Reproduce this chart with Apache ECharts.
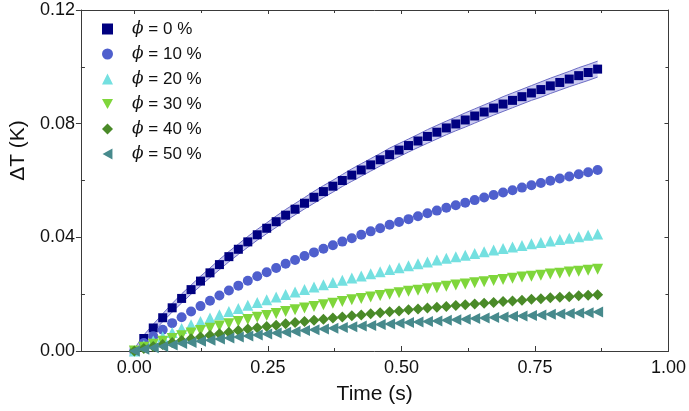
<!DOCTYPE html>
<html>
<head>
<meta charset="utf-8">
<script src="https://cdn.jsdelivr.net/npm/echarts@6/dist/echarts.min.js"></script>
<style>
html,body{margin:0;padding:0;background:#fff;}
#chart{width:689px;height:411px;}
</style>
</head>
<body>
<div id="chart"></div>
<script>
const times = [0,0.0177,0.0354,0.0531,0.0708,0.0885,0.1062,0.1239,0.1416,0.1593,0.1770,0.1947,0.2124,0.2301,0.2478,0.2655,0.2832,0.3009,0.3186,0.3363,0.3540,0.3717,0.3894,0.4071,0.4248,0.4425,0.4602,0.4779,0.4956,0.5133,0.5310,0.5487,0.5664,0.5841,0.6018,0.6195,0.6372,0.6549,0.6726,0.6903,0.7080,0.7257,0.7434,0.7611,0.7788,0.7965,0.8142,0.8319,0.8496,0.8673];

const phi0 = [0.0000,0.0044,0.0081,0.0117,0.0152,0.0185,0.0216,0.0246,0.0275,0.0304,0.0332,0.0358,0.0384,0.0409,0.0432,0.0455,0.0478,0.0499,0.0520,0.0541,0.0561,0.0580,0.0600,0.0619,0.0637,0.0655,0.0673,0.0691,0.0707,0.0723,0.0739,0.0755,0.0770,0.0785,0.0799,0.0813,0.0827,0.0841,0.0855,0.0869,0.0882,0.0895,0.0908,0.0920,0.0933,0.0945,0.0957,0.0969,0.0980,0.0992];
const phi10 = [0.0000,0.0028,0.0052,0.0075,0.0098,0.0119,0.0139,0.0158,0.0177,0.0195,0.0213,0.0230,0.0247,0.0263,0.0277,0.0292,0.0307,0.0320,0.0334,0.0347,0.0360,0.0372,0.0385,0.0397,0.0409,0.0421,0.0432,0.0444,0.0454,0.0464,0.0474,0.0485,0.0494,0.0504,0.0513,0.0522,0.0531,0.0540,0.0549,0.0558,0.0566,0.0575,0.0583,0.0591,0.0599,0.0607,0.0614,0.0622,0.0629,0.0637];
const phi20 = [0.0000,0.0019,0.0035,0.0050,0.0065,0.0079,0.0092,0.0104,0.0116,0.0128,0.0139,0.0150,0.0161,0.0171,0.0180,0.0190,0.0199,0.0208,0.0216,0.0225,0.0233,0.0241,0.0249,0.0257,0.0264,0.0272,0.0279,0.0287,0.0293,0.0300,0.0307,0.0313,0.0320,0.0326,0.0332,0.0337,0.0343,0.0349,0.0355,0.0361,0.0366,0.0371,0.0377,0.0382,0.0387,0.0392,0.0397,0.0402,0.0407,0.0412];
const phi30 = [0.0000,0.0013,0.0024,0.0034,0.0044,0.0054,0.0063,0.0072,0.0080,0.0088,0.0096,0.0104,0.0111,0.0119,0.0125,0.0132,0.0139,0.0145,0.0151,0.0157,0.0163,0.0168,0.0174,0.0180,0.0185,0.0190,0.0195,0.0200,0.0205,0.0210,0.0214,0.0219,0.0223,0.0228,0.0232,0.0236,0.0240,0.0244,0.0248,0.0252,0.0256,0.0260,0.0263,0.0267,0.0271,0.0274,0.0278,0.0281,0.0284,0.0288];
const phi40 = [0.0000,0.0009,0.0016,0.0023,0.0030,0.0037,0.0043,0.0049,0.0055,0.0061,0.0066,0.0072,0.0077,0.0082,0.0086,0.0091,0.0096,0.0100,0.0104,0.0108,0.0112,0.0116,0.0120,0.0124,0.0127,0.0131,0.0135,0.0138,0.0141,0.0145,0.0148,0.0151,0.0154,0.0157,0.0160,0.0163,0.0165,0.0168,0.0171,0.0174,0.0176,0.0179,0.0182,0.0184,0.0187,0.0189,0.0191,0.0194,0.0196,0.0198];
const phi50 = [0.0000,0.0006,0.0011,0.0016,0.0021,0.0026,0.0030,0.0034,0.0038,0.0042,0.0046,0.0049,0.0053,0.0056,0.0060,0.0063,0.0066,0.0069,0.0072,0.0075,0.0077,0.0080,0.0083,0.0085,0.0088,0.0090,0.0093,0.0095,0.0098,0.0100,0.0102,0.0104,0.0106,0.0108,0.0110,0.0112,0.0114,0.0116,0.0118,0.0120,0.0122,0.0123,0.0125,0.0127,0.0129,0.0130,0.0132,0.0134,0.0135,0.0137];

// half-width of the confidence band around the phi = 0 % data
const bandHalf = [0.0008,0.0012,0.0013,0.0014,0.0015,0.0016,0.0016,0.0017,0.0017,0.0018,0.0018,0.0018,0.0019,0.0019,0.0019,0.0020,0.0020,0.0020,0.0020,0.0021,0.0021,0.0021,0.0021,0.0022,0.0022,0.0022,0.0022,0.0023,0.0023,0.0023,0.0023,0.0024,0.0024,0.0024,0.0024,0.0025,0.0025,0.0025,0.0025,0.0026,0.0026,0.0026,0.0026,0.0027,0.0027,0.0027,0.0027,0.0028,0.0028,0.0028];

const seriesNames = ['ϕ = 0 %','ϕ = 10 %','ϕ = 20 %','ϕ = 30 %','ϕ = 40 %','ϕ = 50 %'];
const xMajorTicks = [0, 0.25, 0.5, 0.75, 1.0];
const xMinorTicks = [0.125, 0.375, 0.625, 0.875];
const yMajorTicks = [0, 0.04, 0.08, 0.12];
const yMinorTicks = [0.02, 0.06, 0.10];

const FONT = "'Liberation Sans', Arial, sans-serif";
const AX = '#3a3a3a';
const colors = ['#000080','#4f5fcd','#74e0e0','#7fd63b','#4a8a28','#478a8c'];
const symbols = ['rect','circle','triangle','path://M0,0L10,0L5,9Z','diamond','path://M0,5L9,0L9,10Z'];
const sizes = [9,10,11,11,11,11];
const allData = [phi0,phi10,phi20,phi30,phi40,phi50];

function pts(arr){ return times.map((t,i)=>[t, arr[i]]); }

const xBase = {type:'value', min:-0.1, max:1.0, gridIndex:0, splitLine:{show:false}};
const yBase = {type:'value', min:0, max:0.12, interval:0.04, gridIndex:0, splitLine:{show:false}};

function renderBand(params, api){
  const up = times.map((t,i)=>api.coord([t, phi0[i]+bandHalf[i]]));
  const lo = times.map((t,i)=>api.coord([t, phi0[i]-bandHalf[i]]));
  const poly = up.concat(lo.slice().reverse());
  return {type:'group', children:[
    {type:'polygon', shape:{points:poly}, style:{fill:'#cacaf0', stroke:null}},
    {type:'polyline', shape:{points:up}, style:{fill:null, stroke:'#6c6cc4', lineWidth:1}},
    {type:'polyline', shape:{points:lo}, style:{fill:null, stroke:'#6c6cc4', lineWidth:1}}
  ]};
}

const option = {
  animation:false,
  backgroundColor:'#fff',
  grid:{left:73, right:20, top:10, bottom:60, containLabel:false},
  legend:{
    orient:'vertical', left:97, top:14, itemWidth:11, itemHeight:11, itemGap:5,
    data:seriesNames,
    formatter: n => '{p|ϕ}{t|' + n.slice(1) + '}',
    textStyle:{fontFamily:FONT, fontSize:17, color:'#111', padding:[0,0,0,14], lineHeight:20,
      rich:{p:{fontFamily:"'DejaVu Serif', serif", fontStyle:'italic', fontSize:17, lineHeight:20},
            t:{fontFamily:FONT, fontSize:17, lineHeight:20}}}
  },
  xAxis:[
    Object.assign({}, xBase, {position:'bottom',
      axisLine:{show:true, onZero:false, lineStyle:{color:AX, width:1}},
      axisTick:{show:true, inside:true, length:5, customValues:xMajorTicks, lineStyle:{color:AX}},
      axisLabel:{show:true, customValues:xMajorTicks, formatter:v=>v.toFixed(2), fontFamily:FONT, fontSize:18, color:'#111', margin:8},
      name:'Time (s)', nameLocation:'middle', nameGap:33,
      nameTextStyle:{fontFamily:FONT, fontSize:21, color:'#111'}}),
    Object.assign({}, xBase, {position:'bottom',
      axisLine:{show:false, onZero:false},
      axisTick:{show:true, inside:true, length:3, customValues:xMinorTicks, lineStyle:{color:AX}},
      axisLabel:{show:false}}),
    Object.assign({}, xBase, {position:'top',
      axisLine:{show:true, onZero:false, lineStyle:{color:AX, width:1}},
      axisTick:{show:true, inside:true, length:4, customValues:xMajorTicks, lineStyle:{color:AX}},
      axisLabel:{show:false}}),
    Object.assign({}, xBase, {position:'top',
      axisLine:{show:false, onZero:false},
      axisTick:{show:true, inside:true, length:3, customValues:xMinorTicks, lineStyle:{color:AX}},
      axisLabel:{show:false}})
  ],
  yAxis:[
    Object.assign({}, yBase, {position:'left',
      axisLine:{show:true, onZero:false, lineStyle:{color:AX, width:1}},
      axisTick:{show:true, inside:false, length:5, customValues:yMajorTicks, lineStyle:{color:AX}},
      axisLabel:{show:true, customValues:yMajorTicks, formatter:v=>v.toFixed(2), fontFamily:FONT, fontSize:18, color:'#111', margin:6},
      name:'ΔT (K)', nameLocation:'middle', nameGap:50,
      nameTextStyle:{fontFamily:FONT, fontSize:21, color:'#111', padding:[0,0,0,60]}}),
    Object.assign({}, yBase, {position:'left',
      axisLine:{show:false, onZero:false},
      axisTick:{show:true, inside:true, length:4, customValues:yMinorTicks, lineStyle:{color:AX}},
      axisLabel:{show:false}}),
    Object.assign({}, yBase, {position:'right',
      axisLine:{show:true, onZero:false, lineStyle:{color:AX, width:1}},
      axisTick:{show:true, inside:true, length:4, customValues:yMajorTicks, lineStyle:{color:AX}},
      axisLabel:{show:false}}),
    Object.assign({}, yBase, {position:'right',
      axisLine:{show:false, onZero:false},
      axisTick:{show:true, inside:true, length:3, customValues:yMinorTicks, lineStyle:{color:AX}},
      axisLabel:{show:false}})
  ],
  series:[
    {type:'custom', name:'band', renderItem:renderBand, data:[[0,0]], silent:true, clip:true,
     xAxisIndex:0, yAxisIndex:0, z:1}
  ].concat(allData.map((arr,k)=>({
    type:'scatter', name:seriesNames[k], data:pts(arr), symbol:symbols[k], symbolSize:sizes[k],
    itemStyle:{color:colors[k], opacity:1}, xAxisIndex:0, yAxisIndex:0, z:3
  })))
};

const chart = echarts.init(document.getElementById('chart'), null, {renderer:'canvas'});
chart.setOption(option);
</script>
</body>
</html>
